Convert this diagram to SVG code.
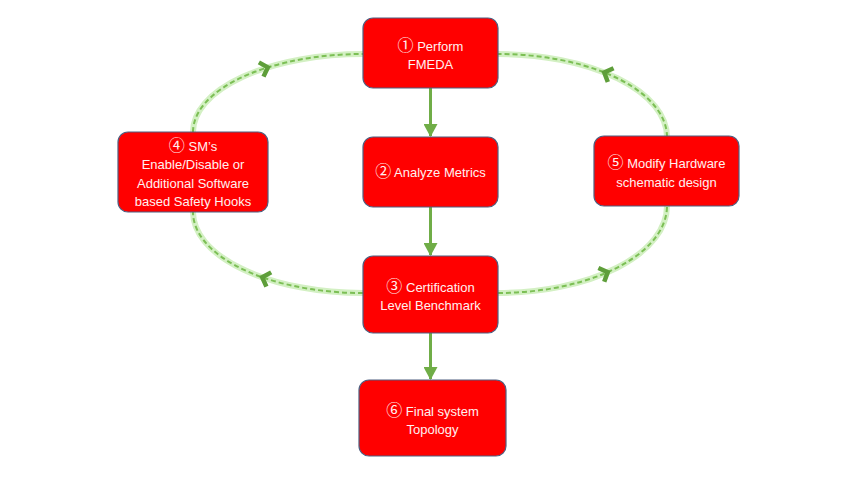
<svg xmlns="http://www.w3.org/2000/svg" width="865" height="487" viewBox="0 0 865 487">
<style>
.box{fill:#FF0000;stroke:#4F5F80;stroke-width:1.2}
.t{font-family:"Liberation Sans","DejaVu Sans","Noto Sans CJK SC",sans-serif;font-size:13px;fill:#FFF0F0;text-anchor:middle}
.n{font-family:"Noto Sans CJK SC","DejaVu Sans",sans-serif;font-size:16px}
.glow{fill:none;stroke:#D3F0C3;stroke-width:6;stroke-linecap:round}
.dash{fill:none;stroke:#7CBF55;stroke-width:2;stroke-dasharray:5 3}
.flow{stroke:#70AD47;stroke-width:3;fill:none}
</style>
<defs>
<marker id="chev" markerUnits="userSpaceOnUse" markerWidth="24" markerHeight="24" refX="0" refY="0" viewBox="-12 -12 24 24" orient="auto" overflow="visible">
<path d="M-4 -7.5 L3 0 L-4 7.5" fill="none" stroke="#5E9E3A" stroke-width="4.5" stroke-linejoin="miter"/>
</marker>
<marker id="ah" markerUnits="userSpaceOnUse" markerWidth="14" markerHeight="14" viewBox="0 0 14 14" refX="12" refY="7" orient="auto">
<path d="M0 0 L13 7 L0 14 Z" fill="#70AD47"/>
</marker>
</defs>
<g id="connectors">
<path class="glow" d="M193 132 A170 78 0 0 1 363 54"/>
<path class="dash" d="M193 132 A170 78 0 0 1 265 68.3 A170 78 0 0 1 363 54" marker-mid="url(#chev)"/>
<path class="glow" d="M667 137 A169 83 0 0 0 498 54"/>
<path class="dash" d="M667 137 A169 83 0 0 0 607 73.6 A169 83 0 0 0 498 54" marker-mid="url(#chev)"/>
<path class="glow" d="M363 293 A170 81 0 0 1 193 212"/>
<path class="dash" d="M363 293 A170 81 0 0 1 265 278.2 A170 81 0 0 1 193 212" marker-mid="url(#chev)"/>
<path class="glow" d="M498 293 A169 87 0 0 0 667 206"/>
<path class="dash" d="M498 293 A169 87 0 0 0 605 273.3 A169 87 0 0 0 667 206" marker-mid="url(#chev)"/>
<path class="flow" d="M430.5 88 L430.5 136" marker-end="url(#ah)"/>
<path class="flow" d="M430.5 207 L430.5 255" marker-end="url(#ah)"/>
<path class="flow" d="M430.5 333 L430.5 379" marker-end="url(#ah)"/>
</g>
<g id="n1">
<rect class="box" x="363" y="18" width="135" height="70" rx="10"/>
<text class="t" x="430.5" y="51"><tspan class="n">①</tspan> Perform</text>
<text class="t" x="430.5" y="69">FMEDA</text>
</g>
<g id="n2">
<rect class="box" x="363" y="137" width="135" height="70" rx="10"/>
<text class="t" x="430.5" y="177"><tspan class="n">②</tspan> Analyze Metrics</text>
</g>
<g id="n3">
<rect class="box" x="363" y="256" width="135" height="77" rx="10"/>
<text class="t" x="430.5" y="292"><tspan class="n">③</tspan> Certification</text>
<text class="t" x="430.5" y="310">Level Benchmark</text>
</g>
<g id="n4">
<rect class="box" x="118" y="132" width="150" height="80" rx="10"/>
<text class="t" x="193" y="151"><tspan class="n">④</tspan> SM’s</text>
<text class="t" x="193" y="169">Enable/Disable or</text>
<text class="t" x="193" y="188">Additional Software</text>
<text class="t" x="193" y="206">based Safety Hooks</text>
</g>
<g id="n5">
<rect class="box" x="594" y="136" width="145" height="70" rx="10"/>
<text class="t" x="666.5" y="168"><tspan class="n">⑤</tspan> Modify Hardware</text>
<text class="t" x="666.5" y="187">schematic design</text>
</g>
<g id="n6">
<rect class="box" x="359" y="380" width="147" height="76" rx="10"/>
<text class="t" x="432.5" y="416"><tspan class="n">⑥</tspan> Final system</text>
<text class="t" x="432.5" y="434">Topology</text>
</g>
</svg>
